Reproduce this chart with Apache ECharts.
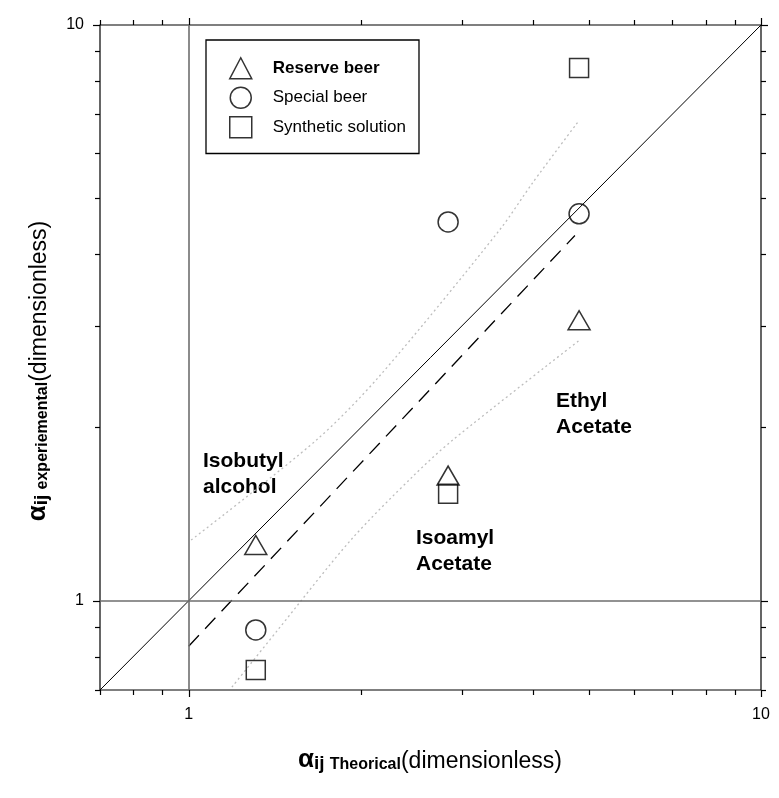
<!DOCTYPE html>
<html>
<head>
<meta charset="utf-8">
<script src="https://cdn.jsdelivr.net/npm/echarts@6.0.0/dist/echarts.min.js"></script>
<style>
  html, body { margin: 0; padding: 0; background: #fff; }
  #chart { width: 779px; height: 798px; }
</style>
</head>
<body>
<div id="chart"></div>
<script>
// data (log-log axes)
const seriesNames = ["Reserve beer", "Special beer", "Synthetic solution"];
const reserveBeer = [[1.31, 1.25], [2.84, 1.65], [4.81, 3.07]];
const specialBeer = [[1.31, 0.89], [2.84, 4.55], [4.81, 4.70]];
const syntheticSolution = [[1.31, 0.758], [2.84, 1.535], [4.81, 8.42]];

const identityLine = [[0.7, 0.7], [10, 10]];
const fitLine = [[1, 0.834], [4.73, 4.31]];
const upperBand = [[1.01, 1.275], [1.67, 1.90], [2.15, 2.45], [3.49, 4.40], [3.99, 5.32], [4.78, 6.77]];
const lowerBand = [[1.19, 0.708], [1.43, 0.889], [1.92, 1.275], [2.46, 1.642], [2.89, 1.90], [4.82, 2.836]];
const refLines = [1];

const axisTicks = [0.7, 0.8, 0.9, 1, 2, 3, 4, 5, 6, 7, 8, 9, 10];
const majorTicks = [1, 10];
const tickLabels = [1, 10];

const FONT = "'Liberation Sans', Arial, sans-serif";

const chart = echarts.init(document.getElementById("chart"));

// tick marks drawn outward on all four sides of the frame
const tickData = [];
axisTicks.forEach(v => { tickData.push([v, v, 0]); tickData.push([v, v, 1]); });

function isLabel(v) {
	return tickLabels.some(t => Math.abs(t - v) < 1e-6);
}

const markerStyle = {
	color: "rgba(0,0,0,0)",
	borderColor: "#000",
	borderWidth: 1.5
};

const option = {
	backgroundColor: "#fff",
	animation: false,
	grid: {
		left: 100,
		top: 25,
		right: 18,
		bottom: 108,
		show: true,
		borderColor: "#000",
		borderWidth: 1.2
	},
	legend: {
		orient: "vertical",
		left: 206,
		top: 40,
		padding: [17, 13, 15, 23],
		itemGap: 7,
		itemWidth: 22,
		itemHeight: 21,
		borderColor: "#000",
		borderWidth: 1.3,
		selectedMode: false,
		itemStyle: {
			color: "rgba(0,0,0,0)",
			borderColor: "#000",
			borderWidth: 1.5
		},
		data: seriesNames,
		formatter: name => name === seriesNames[0] ? "{b|" + name + "}" : "{n|" + name + "}",
		textStyle: {
			fontFamily: FONT,
			fontSize: 17,
			color: "#000",
			rich: {
				b: { fontFamily: FONT, fontSize: 17, fontWeight: "bold", color: "#000", padding: [0, 0, 0, 16] },
				n: { fontFamily: FONT, fontSize: 17, color: "#000", padding: [0, 0, 0, 16] }
			}
		}
	},
	xAxis: {
		type: "log",
		logBase: 10,
		min: 0.7,
		max: 10,
		axisLine: { show: false },
		axisTick: { show: false },
		splitLine: { show: false },
		axisLabel: {
			margin: 17,
			fontSize: 16,
			fontFamily: FONT,
			color: "#000",
			formatter: v => isLabel(v) ? String(Math.round(v)) : ""
		}
	},
	yAxis: {
		type: "log",
		logBase: 10,
		min: 0.7,
		max: 10,
		axisLine: { show: false },
		axisTick: { show: false },
		splitLine: { show: false },
		axisLabel: {
			margin: 16,
			fontSize: 16,
			fontFamily: FONT,
			color: "#000",
			formatter: v => isLabel(v) ? String(Math.round(v)) : ""
		}
	},
	graphic: [
		{
			type: "text", left: 203, top: 448,
			style: { text: "Isobutyl\nalcohol", font: "bold 21px " + FONT, lineHeight: 26, fill: "#000" }
		},
		{
			type: "text", left: 416, top: 525,
			style: { text: "Isoamyl\nAcetate", font: "bold 21px " + FONT, lineHeight: 26, fill: "#000" }
		},
		{
			type: "text", left: 556, top: 388,
			style: { text: "Ethyl\nAcetate", font: "bold 21px " + FONT, lineHeight: 26, fill: "#000" }
		},
		{
			type: "text", x: 430, y: 760,
			style: {
				text: "{a|α}{s|ij }{t|Theorical}{n|(dimensionless)}",
				align: "center",
				verticalAlign: "middle",
				fill: "#000",
				rich: {
					a: { fontFamily: FONT, fontSize: 26, fontWeight: "bold", lineHeight: 26, verticalAlign: "bottom" },
					s: { fontFamily: FONT, fontSize: 19, fontWeight: "bold", lineHeight: 14, verticalAlign: "bottom" },
					t: { fontFamily: FONT, fontSize: 16, fontWeight: "bold", lineHeight: 11, verticalAlign: "bottom" },
					n: { fontFamily: FONT, fontSize: 23, lineHeight: 23, verticalAlign: "bottom" }
				}
			}
		},
		{
			type: "text", x: 38, y: 371, rotation: Math.PI / 2,
			style: {
				text: "{a|α}{s|ij }{t|experiemental}{n|(dimensionless)}",
				align: "center",
				verticalAlign: "middle",
				fill: "#000",
				rich: {
					a: { fontFamily: FONT, fontSize: 26, fontWeight: "bold", lineHeight: 26, verticalAlign: "bottom" },
					s: { fontFamily: FONT, fontSize: 19, fontWeight: "bold", lineHeight: 14, verticalAlign: "bottom" },
					t: { fontFamily: FONT, fontSize: 16, fontWeight: "bold", lineHeight: 11, verticalAlign: "bottom" },
					n: { fontFamily: FONT, fontSize: 23, lineHeight: 23, verticalAlign: "bottom" }
				}
			}
		}
	],
	series: [
		{
			name: "identity",
			type: "line",
			data: identityLine,
			symbol: "none",
			silent: true,
			lineStyle: { color: "#000", width: 1 },
			markLine: {
				silent: true,
				symbol: "none",
				label: { show: false },
				lineStyle: { color: "#6e6e6e", width: 1.6, type: "solid" },
				data: refLines.map(v => ({ xAxis: v })).concat(refLines.map(v => ({ yAxis: v })))
			}
		},
		{
			name: "fit",
			type: "line",
			data: fitLine,
			symbol: "none",
			silent: true,
			lineStyle: { color: "#000", width: 1.3, type: [15, 9] }
		},
		{
			name: "upper",
			type: "line",
			data: upperBand,
			symbol: "none",
			smooth: 0.3,
			silent: true,
			lineStyle: { color: "#bdbdbd", width: 1.3, type: [2, 3] }
		},
		{
			name: "lower",
			type: "line",
			data: lowerBand,
			symbol: "none",
			smooth: 0.3,
			silent: true,
			lineStyle: { color: "#bdbdbd", width: 1.3, type: [2, 3] }
		},
		{
			name: seriesNames[0],
			type: "scatter",
			symbol: "triangle",
			symbolSize: [22, 19],
			data: reserveBeer,
			itemStyle: markerStyle,
			z: 4
		},
		{
			name: seriesNames[1],
			type: "scatter",
			symbol: "circle",
			symbolSize: 20,
			data: specialBeer,
			itemStyle: markerStyle,
			z: 4
		},
		{
			name: seriesNames[2],
			type: "scatter",
			symbol: "rect",
			symbolSize: 19,
			data: syntheticSolution,
			itemStyle: markerStyle,
			z: 4
		},
		{
			name: "ticks",
			type: "custom",
			silent: true,
			clip: false,
			z: 6,
			data: tickData,
			encode: { x: 0, y: 1 },
			renderItem: function (params, api) {
				const v = api.value(0);
				const side = api.value(2);
				const cs = params.coordSys;
				const len = majorTicks.some(t => Math.abs(t - v) < 1e-6) ? 7 : 5;
				let segs;
				if (side === 0) {
					const px = Math.round(api.coord([v, 1])[0]) + 0.5;
					const bottom = cs.y + cs.height;
					segs = [[px, bottom, px, bottom + len], [px, cs.y, px, cs.y - len]];
				} else {
					const py = Math.round(api.coord([1, v])[1]) + 0.5;
					const right = cs.x + cs.width;
					segs = [[cs.x - len, py, cs.x, py], [right, py, right + len, py]];
				}
				return {
					type: "group",
					children: segs.map(s => ({
						type: "line",
						shape: { x1: s[0], y1: s[1], x2: s[2], y2: s[3] },
						style: { stroke: "#000", lineWidth: 1.2 }
					}))
				};
			}
		}
	]
};

chart.setOption(option);
</script>
</body>
</html>
